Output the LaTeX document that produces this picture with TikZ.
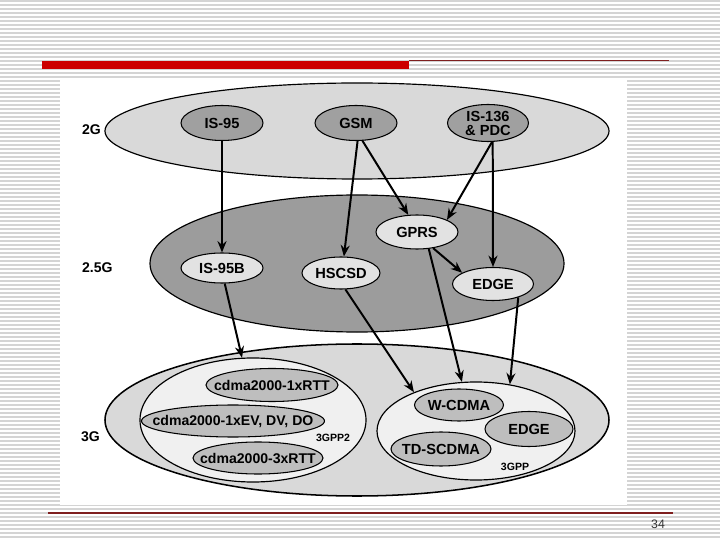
\documentclass[tikz,border=0pt]{standalone}
\usepackage{fontspec}
\setmainfont{Liberation Sans}
\usetikzlibrary{arrows.meta,shapes.geometric}
\definecolor{barred}{HTML}{CC0000}
\definecolor{rulered}{HTML}{7F1F1F}
\definecolor{bandlite}{HTML}{D9D9D9}
\definecolor{banddark}{HTML}{9C9C9C}
\definecolor{grpfill}{HTML}{F0F0F0}
\definecolor{techdark}{HTML}{A0A0A0}
\definecolor{techpale}{HTML}{E2E2E2}
\definecolor{techmid}{HTML}{BEBEBE}
\tikzset{
  stripe/.style ={line width=1pt, black!17},
  band/.style   ={ellipse, draw, line width=1pt, inner sep=0pt},
  tech/.style   ={ellipse, draw, line width=0.9pt, inner xsep=-30pt,
                  inner ysep=-6pt, align=center,
                  font=\bfseries\fontsize{12.5}{12}\selectfont},
  cdma/.style   ={tech, font=\bfseries\fontsize{12}{12}\selectfont},
  grplbl/.style ={font=\bfseries\fontsize{9}{9}\selectfont},
  pgnum/.style  ={font=\fontsize{10.5}{10.5}\selectfont, text=black!80},
}

\begin{document}
\begin{tikzpicture}[x=0.03cm, y=-0.03cm,
  >={Stealth[length=3.4mm, width=2.7mm]},
  link/.style={->, line width=1.7pt},
  lvl/.style={font=\bfseries\fontsize{12}{12}\selectfont}]
\useasboundingbox (0,0) rectangle (720,540);
% slide backdrop
\foreach \yy in {1,5,...,537}
  \draw[stripe] (0,\yy) -- (720,\yy);
\fill[white] (60,80) rectangle (627,505);
\fill[barred] (42,61) rectangle (409,69);
\draw[rulered, line width=0.8pt] (409,60.5) -- (669,60.5);
\draw[rulered, line width=0.9pt] (48,513) -- (673,513);
\node[pgnum] (pg) at (658,524) {34};
% generations
\node[band, fill=bandlite, minimum width=15.12cm, minimum height=2.88cm]
  (g2) at (357,131) {};
\node[band, fill=banddark, minimum width=12.42cm, minimum height=4.11cm]
  (g25) at (357,263.5) {};
\node[band, fill=bandlite, minimum width=15.12cm, minimum height=4.56cm,
  line width=1.3pt] (g3) at (357,420) {};
\node[band, fill=grpfill, minimum width=6.78cm, minimum height=3.72cm]
  (gpp2) at (253,420) {};
\node[band, fill=grpfill, minimum width=5.94cm, minimum height=2.94cm]
  (gpp) at (476,431) {};
\node[lvl, anchor=west] (l2)  at (78,130) {2G};
\node[lvl, anchor=west] (l25) at (78,268) {2.5G};
\node[lvl, anchor=west] (l3)  at (77,437) {3G};
% 2G
\node[tech, fill=techdark, minimum width=2.46cm, minimum height=1.05cm]
  (is95) at (222,123) {IS-95};
\node[tech, fill=techdark, minimum width=2.46cm, minimum height=1.05cm]
  (gsm) at (356,123) {GSM};
\node[tech, fill=techdark, minimum width=2.43cm, minimum height=1.11cm]
  (is136) at (488,123) {IS-136\\\& PDC};
% 2.5G
\node[tech, fill=techpale, minimum width=2.46cm, minimum height=0.9cm]
  (is95b) at (222,268) {IS-95B};
\node[tech, fill=techpale, minimum width=2.34cm, minimum height=0.96cm]
  (hscsd) at (341,273) {HSCSD};
\node[tech, fill=techpale, minimum width=2.46cm, minimum height=1.02cm]
  (gprs) at (417,232) {GPRS};
\node[tech, fill=techpale, minimum width=2.43cm, minimum height=0.99cm]
  (edge) at (493,284) {EDGE};
% 3G
\node[cdma, fill=techmid, minimum width=3.96cm, minimum height=0.99cm]
  (rtt1) at (272,385) {cdma2000-1xRTT};
\node[cdma, fill=techmid, minimum width=5.49cm, minimum height=0.96cm]
  (evdo) at (233,421) {cdma2000-1xEV, DV, DO};
\node[cdma, fill=techmid, minimum width=3.9cm, minimum height=0.96cm]
  (rtt3) at (258,458) {cdma2000-3xRTT};
\node[tech, fill=techmid, minimum width=2.67cm, minimum height=0.96cm]
  (wcdma) at (459,405) {W-CDMA};
\node[tech, fill=techmid, minimum width=2.64cm, minimum height=1.05cm]
  (edge3) at (529,429) {EDGE};
\node[tech, fill=techmid, minimum width=3.0cm, minimum height=1.02cm]
  (tds) at (441,449) {TD-SCDMA};
\node[grplbl] (n2) at (333,438) {3GPP2};
\node[grplbl] (n1) at (515,467) {3GPP};
% evolution paths
\draw[link] (is95.south) -- (is95b.north);
\draw[link] (gsm.-85) -- (hscsd.80);
\draw[link] (gsm.-70) -- (gprs.117);
\draw[link] (is136.-78) -- (gprs.22);
\draw[link] (is136.-76) -- (edge.north);
\draw[link] (gprs.-45) -- (edge.160);
\draw[link] (gprs.-55) -- (gpp.106);
\draw[link] (edge.-28) -- (gpp.54);
\draw[link] (hscsd.-75) -- (gpp.148);
\draw[link] (is95b.-80) -- (gpp2.100);
\end{tikzpicture}
\end{document}
